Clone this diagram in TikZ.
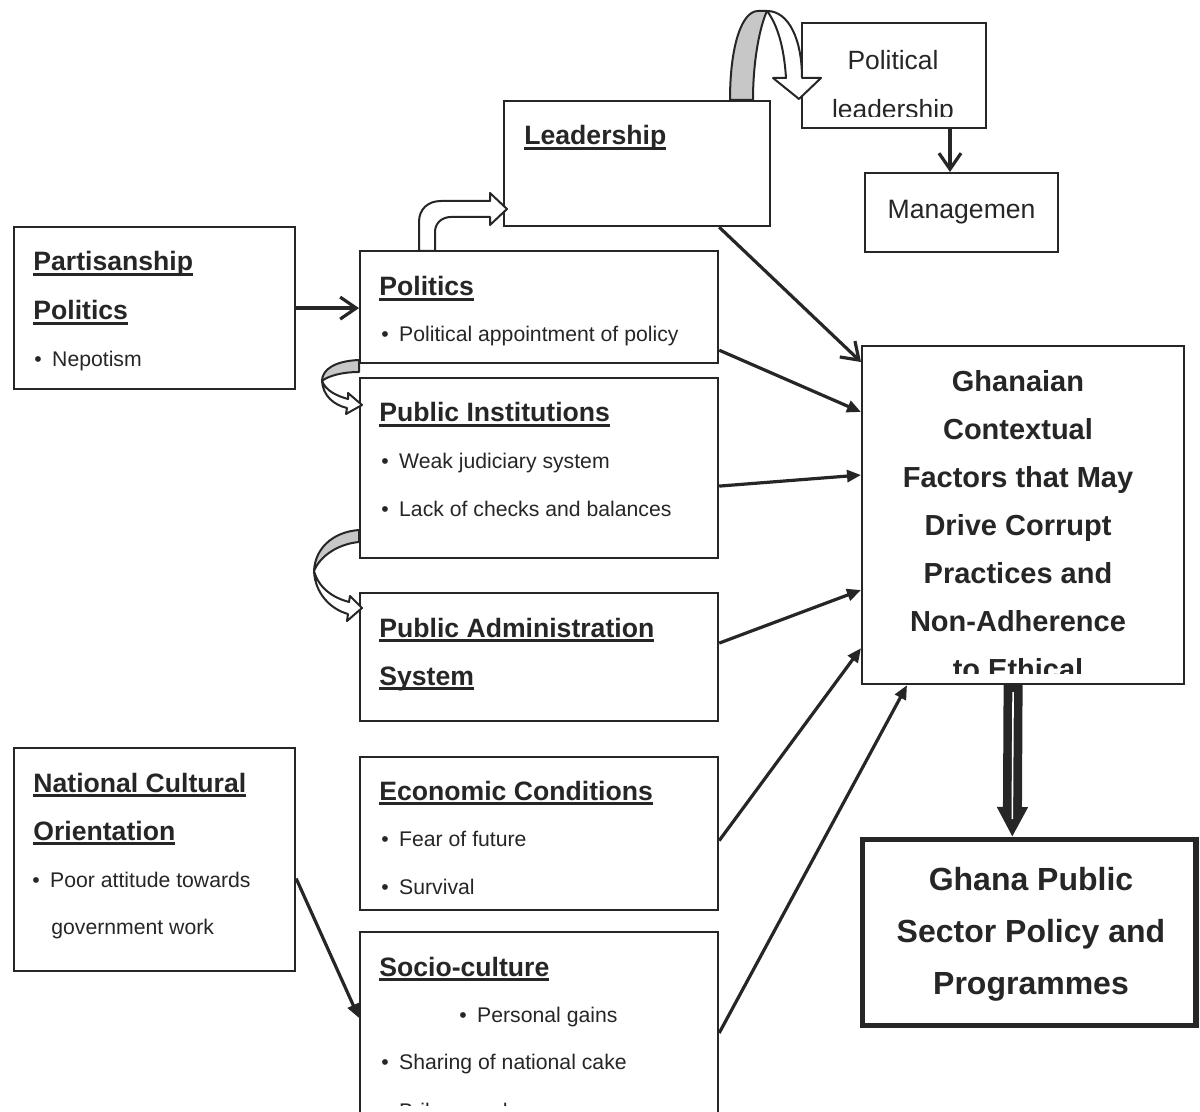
\documentclass[tikz,border=0pt]{standalone}
\usepackage{fontspec}
\setmainfont{Liberation Sans}
\usetikzlibrary{arrows.meta}
% underlined heading and bullet line
\newcommand{\ulhd}[1]{\setbox0\hbox{#1}\rlap{\rule[-2.4pt]{\wd0}{1.4pt}}\box0}
\newcommand{\bul}[1]{\textbullet\hspace{5.2pt}#1}

\begin{document}
\begin{tikzpicture}[x=0.5pt,y=-0.5pt,
  box/.style={draw=black!85, line width=1.1pt, fill=white, inner sep=0pt, anchor=north west},
  hd/.style={anchor=base west, inner sep=0pt, font=\fontsize{13.3}{16}\selectfont\bfseries, text=black!85},
  txt/.style={anchor=base west, inner sep=0pt, font=\fontsize{10.6}{13}\selectfont, text=black!85},
  ctr/.style={anchor=base, inner sep=0pt, font=\fontsize{14.5}{17}\selectfont\bfseries, text=black!85},
  link/.style={draw=black!85, line width=1.6pt, -{Triangle[length=7pt,width=6pt]}},
  barb/.style={draw=black!85, line width=1.6pt, -{Straight Barb[length=8pt,width=11pt]}},
  blockarrow/.style={draw=black!85, line width=1pt, fill=white, line join=round},
]
  \path[use as bounding box] (0,0) rectangle (1200,1112);
  \clip (0,0) rectangle (1200,1112);
  % boxes
  \node[box, minimum width=92pt, minimum height=52.5pt] (plead) at (801,22) {};
  \node[box, minimum width=96.5pt, minimum height=39.5pt, font=\fontsize{13.3}{16}\selectfont, text=black!85] (mgmt) at (864,172) {Managemen};
  \node[box, minimum width=133pt, minimum height=62.5pt] (lead) at (503,100) {};
  \node[box, minimum width=140.5pt, minimum height=81pt] (part) at (13,226) {};
  \node[box, minimum width=179pt, minimum height=56pt] (pol) at (359,250) {};
  \node[box, minimum width=179pt, minimum height=90pt] (inst) at (359,377) {};
  \node[box, minimum width=179pt, minimum height=64pt] (adm) at (359,592) {};
  \node[box, minimum width=179pt, minimum height=76.5pt] (econ) at (359,756) {};
  \node[box, minimum width=179pt, minimum height=100pt] (soc) at (359,931) {};
  \node[box, minimum width=140.5pt, minimum height=111.5pt] (natc) at (13,747) {};
  \node[box, minimum width=161pt, minimum height=169pt] (ctx) at (861,345) {};
  \node[box, line width=2.6pt, minimum width=166.7pt, minimum height=93pt] (pub) at (860,837) {};

  % block arrows
  \filldraw[blockarrow] (419,251) -- (419,222) .. controls (419,209) and (428,201) .. (441,201) -- (490,201) -- (490,193) -- (507,209) -- (490,225) -- (490,217) -- (451,217) .. controls (442,217) and (435,223) .. (435,232) -- (435,251) -- cycle;
  \filldraw[blockarrow, fill=black!22] (359,360) .. controls (334,361) and (322,370) .. (322,381) .. controls (328,376) and (342,372) .. (359,372) -- cycle;
  \filldraw[blockarrow] (322,381) .. controls (323,396) and (334,405) .. (347,408) -- (346,414) -- (362,405) -- (348,393) -- (348,399) .. controls (337,396) and (326,391) .. (322,381) -- cycle;
  \filldraw[blockarrow, fill=black!22] (359,530) .. controls (332,532) and (315,549) .. (314,571) .. controls (320,556) and (338,544) .. (359,542) -- cycle;
  \filldraw[blockarrow] (314,571) .. controls (315,593) and (330,609) .. (348,614) -- (347,621) -- (362,608) -- (350,596) -- (349,602) .. controls (334,598) and (319,589) .. (314,571) -- cycle;
  \filldraw[blockarrow, fill=black!22] (730,100) .. controls (730,45) and (742,11) .. (758,11) -- (767,11) .. controls (760,26) and (753,60) .. (753,100) -- cycle;
  \filldraw[blockarrow] (767,11) .. controls (789,11) and (802,40) .. (802,78) -- (821,78) -- (799,99) -- (773,78) -- (786,78) .. controls (784,46) and (777,24) .. (767,11) -- cycle;

  % texts
  \begin{scope}
    \clip (plead.north west) rectangle ([shift={(0,-13)}]plead.south east);
    \node[anchor=base, inner sep=0pt, font=\fontsize{13.2}{16}\selectfont, text=black!85] (plead-1) at (893,69.5) {Political};
    \node[anchor=base, inner sep=0pt, font=\fontsize{13.2}{16}\selectfont, text=black!85] (plead-2) at (893,119) {leadership};
  \end{scope}
  \node[hd] (lead-h) at (524,145) {\ulhd{Leadership}};
  \node[hd] (part-h1) at (33,271) {\ulhd{Partisanship}};
  \node[hd] (part-h2) at (33,320) {\ulhd{Politics}};
  \node[txt] (part-b1) at (34,366.5) {\bul{Nepotism}};
  \node[hd] (pol-h) at (379,296) {\ulhd{Politics}};
  \node[txt] (pol-b1) at (381,342) {\bul{Political appointment of policy}};
  \node[hd] (inst-h) at (379,422) {\ulhd{Public Institutions}};
  \node[txt] (inst-b1) at (381,468.5) {\bul{Weak judiciary system}};
  \node[txt] (inst-b2) at (381,516.5) {\bul{Lack of checks and balances}};
  \node[hd] (adm-h1) at (379,637) {\ulhd{Public Administration}};
  \node[hd] (adm-h2) at (379,685) {\ulhd{System}};
  \node[hd] (econ-h) at (379,800) {\ulhd{Economic Conditions}};
  \node[txt] (econ-b1) at (381,846.5) {\bul{Fear of future}};
  \node[txt] (econ-b2) at (381,894.5) {\bul{Survival}};
  \node[hd] (soc-h) at (379,976) {\ulhd{Socio-culture}};
  \node[txt] (soc-b1) at (459,1022.5) {\bul{Personal gains}};
  \node[txt] (soc-b2) at (381,1069.5) {\bul{Sharing of national cake}};
  \begin{scope}
    \clip (soc.north west) rectangle ([shift={(0,174)}]soc.north east);
    \node[txt] (soc-b3) at (381,1118.5) {\bul{Bribery and}};
  \end{scope}
  \node[hd] (natc-h1) at (33,792) {\ulhd{National Cultural}};
  \node[hd] (natc-h2) at (33,840) {\ulhd{Orientation}};
  \node[txt] (natc-b1) at (32,887.5) {\bul{Poor attitude towards}};
  \node[txt] (natc-b2) at (51,934.5) {government work};
  \begin{scope}
    \clip (ctx.north west) rectangle ([shift={(0,-12)}]ctx.south east);
    \foreach \t [count=\i] in {Ghanaian, Contextual, Factors that May, Drive Corrupt, Practices and, Non-Adherence, to Ethical}
      \node[ctr] (ctx-\i) at (1018,343.4+48*\i) {\t};
  \end{scope}
  \foreach \t [count=\i] in {Ghana Public, Sector Policy and, Programmes}
    \node[ctr, font=\fontsize{16}{19}\selectfont\bfseries] (pub-\i) at (1031,838.5+52*\i) {\t};

  % connectors
  \draw[barb] (part.east) -- (part.east -| pol.west);
  \draw[barb] ([shift={(-52,0)}]lead.south east) -- ([shift={(0,17)}]ctx.north west);
  \draw[barb] ([shift={(149,0)}]plead.south west) coordinate (pl) -- (pl |- mgmt.north);
  \draw[link] ([shift={(0,-14)}]pol.south east) -- ([shift={(0,67)}]ctx.north west);
  \draw[link] ([shift={(0,18)}]inst.east) -- ([shift={(0,130)}]ctx.north west);
  \draw[link] ([shift={(0,-14)}]adm.east) -- ([shift={(0,245)}]ctx.north west);
  \draw[link] ([shift={(0,7)}]econ.east) -- ([shift={(0,-37)}]ctx.south west);
  \draw[link] ([shift={(0,102)}]soc.north east) -- ([shift={(46,0)}]ctx.south west);
  \draw[link] ([shift={(0,19)}]natc.east) -- ([shift={(0,87)}]soc.north west);
  % double arrow down
  \draw[draw=black!85, line width=9.5pt, -{Triangle[length=15pt,width=14.5pt]}] ([shift={(-10,0)}]ctx.south) -- ([shift={(-17,0)}]pub.north);
  \draw[white, line width=0.8pt] ([shift={(-10,7)}]ctx.south) -- ([shift={(-17,-18)}]pub.north);
\end{tikzpicture}
\end{document}
